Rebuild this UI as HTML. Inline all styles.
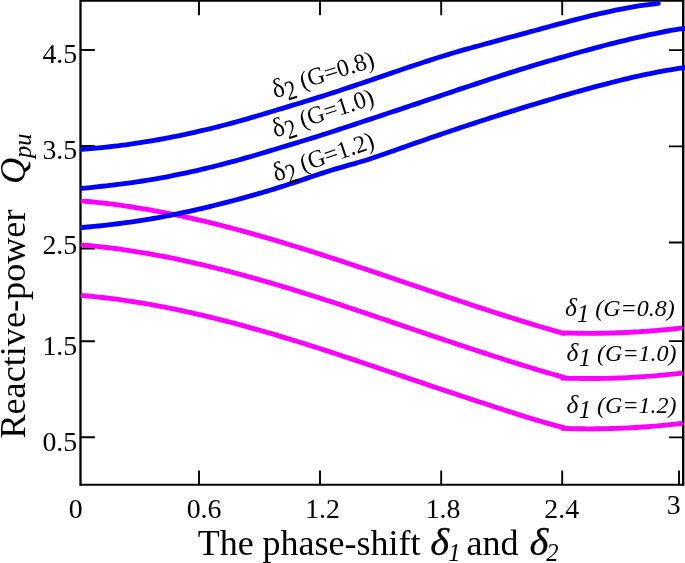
<!DOCTYPE html>
<html><head><meta charset="utf-8"><title>Reactive power vs phase shift</title>
<style>html,body{margin:0;padding:0;background:#fff;}body{width:685px;height:563px;overflow:hidden;}svg{display:block;}</style>
</head><body>
<svg width="685" height="563" viewBox="0 0 685 563">
<path d="M80.5,0.9 H683.2" fill="none" stroke="#000" stroke-width="1.9"/>
<path d="M80.5,484.8 H683.2" fill="none" stroke="#000" stroke-width="2.1"/>
<path d="M80.5,-0.09999999999999998 V485.85" fill="none" stroke="#000" stroke-width="2.3"/>
<path d="M683.2,-0.09999999999999998 V485.85" fill="none" stroke="#000" stroke-width="2.4"/>
<path d="M199.0,484.8 V470.5 M320.0,484.8 V470.5 M441.2,484.8 V470.5 M562.2,484.8 V470.5 M679.0,484.8 V470.5 M199.0,0.9 V15.200000000000001 M320.0,0.9 V15.200000000000001 M441.2,0.9 V15.200000000000001 M562.2,0.9 V15.200000000000001 M80.5,50.0 H94.8 M80.5,146.0 H94.8 M80.5,248.5 H94.8 M80.5,341.2 H94.8 M80.5,437.3 H94.8 M683.2,50.1 H668.9000000000001 M683.2,146.4 H668.9000000000001 M683.2,242.5 H668.9000000000001 M683.2,341.1 H668.9000000000001 M683.2,437.4 H668.9000000000001" fill="none" stroke="#000" stroke-width="1.9"/>
<path d="M83.00,201.08 C84.33,201.20 88.33,201.54 91.00,201.79 C93.67,202.04 96.33,202.31 99.00,202.60 C101.67,202.88 104.33,203.18 107.00,203.50 C109.67,203.82 112.33,204.15 115.00,204.50 C117.67,204.84 120.33,205.21 123.00,205.58 C125.67,205.96 128.33,206.35 131.00,206.76 C133.67,207.17 136.33,207.59 139.00,208.02 C141.67,208.46 144.33,208.90 147.00,209.37 C149.67,209.83 152.33,210.30 155.00,210.79 C157.67,211.28 160.33,211.78 163.00,212.30 C165.67,212.81 168.33,213.34 171.00,213.88 C173.67,214.42 176.33,214.97 179.00,215.54 C181.67,216.10 184.33,216.68 187.00,217.26 C189.67,217.85 192.33,218.45 195.00,219.06 C197.67,219.67 200.33,220.29 203.00,220.92 C205.67,221.55 208.33,222.19 211.00,222.84 C213.67,223.50 216.33,224.16 219.00,224.83 C221.67,225.50 224.33,226.19 227.00,226.88 C229.67,227.57 232.33,228.27 235.00,228.98 C237.67,229.69 240.33,230.41 243.00,231.14 C245.67,231.86 248.33,232.60 251.00,233.34 C253.67,234.09 256.33,234.84 259.00,235.60 C261.67,236.36 264.33,237.13 267.00,237.90 C269.67,238.68 272.33,239.46 275.00,240.25 C277.67,241.04 280.33,241.84 283.00,242.64 C285.67,243.44 288.33,244.25 291.00,245.07 C293.67,245.88 296.33,246.71 299.00,247.53 C301.67,248.36 304.33,249.19 307.00,250.03 C309.67,250.87 312.33,251.71 315.00,252.56 C317.67,253.41 320.33,254.26 323.00,255.12 C325.67,255.98 328.33,256.84 331.00,257.71 C333.67,258.57 336.33,259.45 339.00,260.32 C341.67,261.19 344.33,262.07 347.00,262.95 C349.67,263.83 352.33,264.72 355.00,265.60 C357.67,266.49 360.33,267.38 363.00,268.27 C365.67,269.17 368.33,270.06 371.00,270.96 C373.67,271.85 376.33,272.75 379.00,273.65 C381.67,274.55 384.33,275.45 387.00,276.36 C389.67,277.26 392.33,278.16 395.00,279.07 C397.67,279.97 400.33,280.88 403.00,281.78 C405.67,282.69 408.33,283.60 411.00,284.50 C413.67,285.41 416.33,286.31 419.00,287.22 C421.67,288.12 424.33,289.03 427.00,289.93 C429.67,290.84 432.33,291.74 435.00,292.64 C437.67,293.55 440.33,294.45 443.00,295.34 C445.67,296.24 448.33,297.14 451.00,298.04 C453.67,298.93 456.33,299.82 459.00,300.71 C461.67,301.60 464.33,302.49 467.00,303.38 C469.67,304.26 472.33,305.14 475.00,306.02 C477.67,306.90 480.33,307.78 483.00,308.65 C485.67,309.52 488.33,310.39 491.00,311.25 C493.67,312.11 496.33,312.97 499.00,313.83 C501.67,314.68 504.33,315.53 507.00,316.38 C509.67,317.22 512.33,318.06 515.00,318.90 C517.67,319.73 520.33,320.56 523.00,321.38 C525.67,322.21 528.33,323.02 531.00,323.83 C533.67,324.65 536.33,325.45 539.00,326.25 C541.67,327.05 544.33,327.84 547.00,328.62 C549.67,329.41 552.47,330.22 555.00,330.95 C557.53,331.69 561.00,332.67 562.20,333.01 L562.20,332.87 C563.53,332.90 567.53,333.03 570.20,333.10 C572.87,333.16 575.53,333.21 578.20,333.25 C580.87,333.29 583.53,333.31 586.20,333.32 C588.87,333.33 591.53,333.33 594.20,333.31 C596.87,333.29 599.53,333.26 602.20,333.22 C604.87,333.17 607.53,333.12 610.20,333.04 C612.87,332.97 615.53,332.89 618.20,332.79 C620.87,332.69 623.53,332.58 626.20,332.46 C628.87,332.33 631.53,332.19 634.20,332.04 C636.87,331.89 639.53,331.72 642.20,331.54 C644.87,331.37 647.53,331.17 650.20,330.97 C652.87,330.76 655.53,330.54 658.20,330.31 C660.87,330.08 663.53,329.83 666.20,329.57 C668.87,329.31 671.80,329.01 674.20,328.75 C676.60,328.49 679.53,328.16 680.60,328.04" fill="none" stroke="#ff00ff" stroke-width="4.85" stroke-linecap="round" stroke-linejoin="miter"/>
<path d="M83.00,245.06 C84.33,245.18 88.33,245.52 91.00,245.78 C93.67,246.04 96.33,246.31 99.00,246.60 C101.67,246.89 104.33,247.19 107.00,247.51 C109.67,247.83 112.33,248.17 115.00,248.52 C117.67,248.87 120.33,249.23 123.00,249.61 C125.67,249.99 128.33,250.38 131.00,250.79 C133.67,251.20 136.33,251.62 139.00,252.06 C141.67,252.49 144.33,252.94 147.00,253.40 C149.67,253.87 152.33,254.34 155.00,254.83 C157.67,255.32 160.33,255.82 163.00,256.34 C165.67,256.85 168.33,257.38 171.00,257.91 C173.67,258.45 176.33,259.00 179.00,259.57 C181.67,260.13 184.33,260.70 187.00,261.29 C189.67,261.87 192.33,262.47 195.00,263.08 C197.67,263.69 200.33,264.31 203.00,264.94 C205.67,265.56 208.33,266.20 211.00,266.85 C213.67,267.50 216.33,268.17 219.00,268.84 C221.67,269.51 224.33,270.19 227.00,270.87 C229.67,271.56 232.33,272.26 235.00,272.97 C237.67,273.68 240.33,274.40 243.00,275.12 C245.67,275.85 248.33,276.58 251.00,277.32 C253.67,278.07 256.33,278.82 259.00,279.57 C261.67,280.33 264.33,281.10 267.00,281.87 C269.67,282.65 272.33,283.43 275.00,284.22 C277.67,285.00 280.33,285.80 283.00,286.60 C285.67,287.40 288.33,288.21 291.00,289.03 C293.67,289.84 296.33,290.66 299.00,291.49 C301.67,292.32 304.33,293.15 307.00,293.99 C309.67,294.83 312.33,295.68 315.00,296.52 C317.67,297.37 320.33,298.23 323.00,299.09 C325.67,299.95 328.33,300.81 331.00,301.68 C333.67,302.55 336.33,303.42 339.00,304.30 C341.67,305.18 344.33,306.06 347.00,306.94 C349.67,307.83 352.33,308.71 355.00,309.60 C357.67,310.49 360.33,311.39 363.00,312.28 C365.67,313.18 368.33,314.08 371.00,314.98 C373.67,315.88 376.33,316.78 379.00,317.69 C381.67,318.59 384.33,319.50 387.00,320.40 C389.67,321.31 392.33,322.21 395.00,323.12 C397.67,324.03 400.33,324.94 403.00,325.84 C405.67,326.75 408.33,327.66 411.00,328.56 C413.67,329.47 416.33,330.38 419.00,331.28 C421.67,332.18 424.33,333.09 427.00,333.99 C429.67,334.89 432.33,335.79 435.00,336.69 C437.67,337.59 440.33,338.48 443.00,339.38 C445.67,340.27 448.33,341.16 451.00,342.05 C453.67,342.94 456.33,343.83 459.00,344.72 C461.67,345.60 464.33,346.49 467.00,347.37 C469.67,348.25 472.33,349.13 475.00,350.00 C477.67,350.88 480.33,351.75 483.00,352.62 C485.67,353.49 488.33,354.35 491.00,355.22 C493.67,356.08 496.33,356.94 499.00,357.79 C501.67,358.65 504.33,359.50 507.00,360.34 C509.67,361.19 512.33,362.03 515.00,362.86 C517.67,363.69 520.33,364.52 523.00,365.35 C525.67,366.17 528.33,366.99 531.00,367.80 C533.67,368.61 536.33,369.41 539.00,370.20 C541.67,371.00 544.33,371.78 547.00,372.56 C549.67,373.34 552.33,374.11 555.00,374.86 C557.67,375.62 561.67,376.74 563.00,377.11 L563.00,378.08 C564.33,378.12 568.33,378.24 571.00,378.30 C573.67,378.37 576.33,378.42 579.00,378.45 C581.67,378.49 584.33,378.51 587.00,378.52 C589.67,378.52 592.33,378.52 595.00,378.50 C597.67,378.48 600.33,378.45 603.00,378.40 C605.67,378.36 608.33,378.30 611.00,378.22 C613.67,378.15 616.33,378.06 619.00,377.96 C621.67,377.86 624.33,377.75 627.00,377.62 C629.67,377.49 632.33,377.35 635.00,377.20 C637.67,377.04 640.33,376.87 643.00,376.69 C645.67,376.51 648.33,376.32 651.00,376.11 C653.67,375.90 656.33,375.68 659.00,375.44 C661.67,375.20 664.33,374.96 667.00,374.69 C669.67,374.43 672.73,374.11 675.00,373.86 C677.27,373.62 679.67,373.34 680.60,373.23" fill="none" stroke="#ff00ff" stroke-width="4.85" stroke-linecap="round" stroke-linejoin="miter"/>
<path d="M83.00,295.55 C84.33,295.67 88.33,296.02 91.00,296.28 C93.67,296.54 96.33,296.81 99.00,297.10 C101.67,297.39 104.33,297.70 107.00,298.02 C109.67,298.34 112.33,298.68 115.00,299.03 C117.67,299.38 120.33,299.74 123.00,300.12 C125.67,300.50 128.33,300.90 131.00,301.31 C133.67,301.71 136.33,302.14 139.00,302.57 C141.67,303.01 144.33,303.46 147.00,303.92 C149.67,304.38 152.33,304.86 155.00,305.34 C157.67,305.83 160.33,306.33 163.00,306.85 C165.67,307.36 168.33,307.89 171.00,308.43 C173.67,308.96 176.33,309.51 179.00,310.08 C181.67,310.64 184.33,311.21 187.00,311.80 C189.67,312.38 192.33,312.98 195.00,313.58 C197.67,314.19 200.33,314.81 203.00,315.44 C205.67,316.07 208.33,316.71 211.00,317.36 C213.67,318.00 216.33,318.66 219.00,319.33 C221.67,320.00 224.33,320.68 227.00,321.37 C229.67,322.06 232.33,322.76 235.00,323.46 C237.67,324.17 240.33,324.89 243.00,325.61 C245.67,326.34 248.33,327.07 251.00,327.81 C253.67,328.55 256.33,329.30 259.00,330.06 C261.67,330.82 264.33,331.59 267.00,332.36 C269.67,333.13 272.33,333.91 275.00,334.70 C277.67,335.49 280.33,336.28 283.00,337.09 C285.67,337.89 288.33,338.70 291.00,339.51 C293.67,340.33 296.33,341.15 299.00,341.98 C301.67,342.81 304.33,343.64 307.00,344.48 C309.67,345.32 312.33,346.16 315.00,347.01 C317.67,347.86 320.33,348.72 323.00,349.58 C325.67,350.44 328.33,351.31 331.00,352.18 C333.67,353.05 336.33,353.92 339.00,354.80 C341.67,355.68 344.33,356.56 347.00,357.45 C349.67,358.33 352.33,359.23 355.00,360.12 C357.67,361.01 360.33,361.91 363.00,362.81 C365.67,363.70 368.33,364.60 371.00,365.51 C373.67,366.41 376.33,367.31 379.00,368.22 C381.67,369.12 384.33,370.03 387.00,370.94 C389.67,371.84 392.33,372.75 395.00,373.66 C397.67,374.56 400.33,375.47 403.00,376.38 C405.67,377.28 408.33,378.19 411.00,379.09 C413.67,380.00 416.33,380.90 419.00,381.80 C421.67,382.70 424.33,383.60 427.00,384.49 C429.67,385.39 432.33,386.28 435.00,387.18 C437.67,388.07 440.33,388.96 443.00,389.85 C445.67,390.74 448.33,391.62 451.00,392.51 C453.67,393.40 456.33,394.28 459.00,395.16 C461.67,396.04 464.33,396.92 467.00,397.80 C469.67,398.68 472.33,399.56 475.00,400.44 C477.67,401.31 480.33,402.19 483.00,403.06 C485.67,403.94 488.33,404.81 491.00,405.68 C493.67,406.55 496.33,407.41 499.00,408.28 C501.67,409.14 504.33,410.00 507.00,410.85 C509.67,411.71 512.33,412.56 515.00,413.40 C517.67,414.25 520.33,415.09 523.00,415.92 C525.67,416.75 528.33,417.58 531.00,418.39 C533.67,419.20 536.33,420.01 539.00,420.79 C541.67,421.58 544.33,422.36 547.00,423.12 C549.67,423.88 552.33,424.62 555.00,425.35 C557.67,426.07 561.58,427.08 563.00,427.45 C564.42,427.83 563.42,427.56 563.50,427.58 L563.50,428.38 C564.83,428.42 568.83,428.55 571.50,428.61 C574.17,428.67 576.83,428.72 579.50,428.75 C582.17,428.79 584.83,428.81 587.50,428.81 C590.17,428.82 592.83,428.81 595.50,428.79 C598.17,428.77 600.83,428.74 603.50,428.69 C606.17,428.64 608.83,428.58 611.50,428.51 C614.17,428.43 616.83,428.35 619.50,428.24 C622.17,428.14 624.83,428.03 627.50,427.90 C630.17,427.77 632.83,427.63 635.50,427.47 C638.17,427.31 640.83,427.14 643.50,426.96 C646.17,426.78 648.83,426.58 651.50,426.37 C654.17,426.16 656.83,425.93 659.50,425.70 C662.17,425.46 664.83,425.21 667.50,424.94 C670.17,424.68 673.32,424.34 675.50,424.11 C677.68,423.87 679.75,423.63 680.60,423.53" fill="none" stroke="#ff00ff" stroke-width="4.85" stroke-linecap="round" stroke-linejoin="miter"/>
<path d="M82.50,149.24 C83.83,149.13 87.83,148.84 90.50,148.62 C93.17,148.40 95.83,148.17 98.50,147.91 C101.17,147.66 103.83,147.39 106.50,147.11 C109.17,146.82 111.83,146.52 114.50,146.20 C117.17,145.89 119.83,145.56 122.50,145.21 C125.17,144.86 127.83,144.50 130.50,144.12 C133.17,143.75 135.83,143.35 138.50,142.95 C141.17,142.54 143.83,142.12 146.50,141.68 C149.17,141.24 151.83,140.79 154.50,140.33 C157.17,139.86 159.83,139.38 162.50,138.89 C165.17,138.40 167.83,137.89 170.50,137.37 C173.17,136.84 175.83,136.31 178.50,135.76 C181.17,135.21 183.83,134.65 186.50,134.08 C189.17,133.50 191.83,132.91 194.50,132.31 C197.17,131.71 199.83,131.09 202.50,130.47 C205.17,129.84 207.83,129.20 210.50,128.55 C213.17,127.90 215.83,127.23 218.50,126.55 C221.17,125.88 223.83,125.19 226.50,124.49 C229.17,123.79 231.83,123.07 234.50,122.35 C237.17,121.62 239.83,120.89 242.50,120.14 C245.17,119.39 247.83,118.63 250.50,117.86 C253.17,117.10 255.83,116.32 258.50,115.54 C261.17,114.75 263.83,113.96 266.50,113.16 C269.17,112.37 271.83,111.56 274.50,110.76 C277.17,109.95 279.83,109.14 282.50,108.33 C285.17,107.52 287.83,106.70 290.50,105.89 C293.17,105.07 295.83,104.26 298.50,103.45 C301.17,102.63 303.83,101.82 306.50,101.01 C309.17,100.20 311.83,99.39 314.50,98.56 C317.17,97.74 319.83,96.92 322.50,96.08 C325.17,95.24 327.83,94.39 330.50,93.53 C333.17,92.68 335.83,91.81 338.50,90.94 C341.17,90.07 343.83,89.19 346.50,88.30 C349.17,87.42 351.83,86.52 354.50,85.63 C357.17,84.73 359.83,83.83 362.50,82.93 C365.17,82.03 367.83,81.12 370.50,80.21 C373.17,79.30 375.83,78.39 378.50,77.48 C381.17,76.57 383.83,75.66 386.50,74.75 C389.17,73.84 391.83,72.93 394.50,72.02 C397.17,71.11 399.83,70.21 402.50,69.31 C405.17,68.40 407.83,67.51 410.50,66.61 C413.17,65.72 415.83,64.83 418.50,63.95 C421.17,63.07 423.83,62.19 426.50,61.33 C429.17,60.46 431.83,59.60 434.50,58.75 C437.17,57.90 439.83,57.06 442.50,56.24 C445.17,55.41 447.83,54.59 450.50,53.79 C453.17,52.99 455.83,52.20 458.50,51.42 C461.17,50.65 463.83,49.89 466.50,49.14 C469.17,48.39 471.83,47.65 474.50,46.92 C477.17,46.18 479.83,45.46 482.50,44.73 C485.17,44.00 487.83,43.28 490.50,42.55 C493.17,41.82 495.83,41.10 498.50,40.38 C501.17,39.65 503.83,38.93 506.50,38.21 C509.17,37.48 511.83,36.76 514.50,36.04 C517.17,35.32 519.83,34.60 522.50,33.87 C525.17,33.15 527.83,32.43 530.50,31.71 C533.17,30.98 535.83,30.26 538.50,29.54 C541.17,28.81 543.83,28.09 546.50,27.36 C549.17,26.64 551.83,25.91 554.50,25.19 C557.17,24.47 559.83,23.75 562.50,23.04 C565.17,22.33 567.83,21.62 570.50,20.92 C573.17,20.22 575.83,19.53 578.50,18.85 C581.17,18.17 583.83,17.49 586.50,16.83 C589.17,16.17 591.83,15.52 594.50,14.89 C597.17,14.25 599.83,13.63 602.50,13.02 C605.17,12.42 607.83,11.83 610.50,11.26 C613.17,10.69 615.83,10.13 618.50,9.60 C621.17,9.07 623.83,8.56 626.50,8.07 C629.17,7.58 631.83,7.12 634.50,6.68 C637.17,6.24 639.83,5.82 642.50,5.43 C645.17,5.04 647.87,4.67 650.50,4.35 C653.13,4.02 657.00,3.61 658.30,3.46" fill="none" stroke="#0000ff" stroke-width="4.85" stroke-linecap="round" stroke-linejoin="round"/>
<path d="M82.50,188.35 C83.83,188.21 87.83,187.82 90.50,187.54 C93.17,187.26 95.83,186.99 98.50,186.70 C101.17,186.41 103.83,186.11 106.50,185.81 C109.17,185.51 111.83,185.19 114.50,184.87 C117.17,184.55 119.83,184.21 122.50,183.87 C125.17,183.52 127.83,183.17 130.50,182.80 C133.17,182.43 135.83,182.04 138.50,181.64 C141.17,181.25 143.83,180.83 146.50,180.40 C149.17,179.97 151.83,179.53 154.50,179.07 C157.17,178.61 159.83,178.13 162.50,177.64 C165.17,177.14 167.83,176.63 170.50,176.11 C173.17,175.58 175.83,175.04 178.50,174.49 C181.17,173.94 183.83,173.37 186.50,172.79 C189.17,172.21 191.83,171.61 194.50,171.01 C197.17,170.40 199.83,169.79 202.50,169.16 C205.17,168.53 207.83,167.90 210.50,167.25 C213.17,166.60 215.83,165.94 218.50,165.26 C221.17,164.59 223.83,163.91 226.50,163.21 C229.17,162.51 231.83,161.80 234.50,161.08 C237.17,160.35 239.83,159.62 242.50,158.87 C245.17,158.12 247.83,157.35 250.50,156.58 C253.17,155.81 255.83,155.03 258.50,154.24 C261.17,153.45 263.83,152.65 266.50,151.86 C269.17,151.06 271.83,150.25 274.50,149.45 C277.17,148.65 279.83,147.85 282.50,147.05 C285.17,146.24 287.83,145.45 290.50,144.64 C293.17,143.84 295.83,143.04 298.50,142.23 C301.17,141.42 303.83,140.61 306.50,139.80 C309.17,138.98 311.83,138.16 314.50,137.33 C317.17,136.50 319.83,135.66 322.50,134.81 C325.17,133.97 327.83,133.11 330.50,132.24 C333.17,131.38 335.83,130.51 338.50,129.64 C341.17,128.76 343.83,127.88 346.50,127.00 C349.17,126.12 351.83,125.24 354.50,124.36 C357.17,123.48 359.83,122.59 362.50,121.71 C365.17,120.83 367.83,119.96 370.50,119.08 C373.17,118.20 375.83,117.32 378.50,116.44 C381.17,115.56 383.83,114.69 386.50,113.81 C389.17,112.92 391.83,112.04 394.50,111.16 C397.17,110.27 399.83,109.38 402.50,108.49 C405.17,107.60 407.83,106.70 410.50,105.80 C413.17,104.91 415.83,104.00 418.50,103.10 C421.17,102.20 423.83,101.30 426.50,100.40 C429.17,99.50 431.83,98.60 434.50,97.70 C437.17,96.80 439.83,95.90 442.50,95.01 C445.17,94.11 447.83,93.22 450.50,92.33 C453.17,91.44 455.83,90.55 458.50,89.66 C461.17,88.77 463.83,87.89 466.50,87.01 C469.17,86.12 471.83,85.24 474.50,84.36 C477.17,83.47 479.83,82.59 482.50,81.71 C485.17,80.83 487.83,79.95 490.50,79.07 C493.17,78.20 495.83,77.32 498.50,76.45 C501.17,75.59 503.83,74.72 506.50,73.86 C509.17,73.01 511.83,72.16 514.50,71.32 C517.17,70.48 519.83,69.65 522.50,68.83 C525.17,68.01 527.83,67.20 530.50,66.39 C533.17,65.59 535.83,64.80 538.50,64.01 C541.17,63.22 543.83,62.44 546.50,61.66 C549.17,60.89 551.83,60.12 554.50,59.35 C557.17,58.58 559.83,57.82 562.50,57.05 C565.17,56.29 567.83,55.53 570.50,54.78 C573.17,54.02 575.83,53.27 578.50,52.52 C581.17,51.78 583.83,51.04 586.50,50.31 C589.17,49.58 591.83,48.85 594.50,48.14 C597.17,47.42 599.83,46.71 602.50,46.02 C605.17,45.32 607.83,44.64 610.50,43.96 C613.17,43.29 615.83,42.62 618.50,41.96 C621.17,41.31 623.83,40.66 626.50,40.02 C629.17,39.38 631.83,38.75 634.50,38.12 C637.17,37.50 639.83,36.88 642.50,36.27 C645.17,35.67 647.83,35.07 650.50,34.49 C653.17,33.91 655.83,33.33 658.50,32.79 C661.17,32.25 663.83,31.73 666.50,31.24 C669.17,30.75 671.83,30.28 674.50,29.86 C677.17,29.44 679.92,29.04 682.50,28.71 C685.08,28.39 688.75,28.03 690.00,27.89" fill="none" stroke="#0000ff" stroke-width="4.85" stroke-linecap="round" stroke-linejoin="round"/>
<path d="M82.50,227.48 C83.83,227.36 87.83,227.01 90.50,226.76 C93.17,226.51 95.83,226.24 98.50,225.97 C101.17,225.69 103.83,225.41 106.50,225.11 C109.17,224.81 111.83,224.49 114.50,224.17 C117.17,223.84 119.83,223.51 122.50,223.15 C125.17,222.80 127.83,222.44 130.50,222.06 C133.17,221.68 135.83,221.28 138.50,220.88 C141.17,220.47 143.83,220.05 146.50,219.61 C149.17,219.17 151.83,218.72 154.50,218.25 C157.17,217.79 159.83,217.30 162.50,216.81 C165.17,216.31 167.83,215.79 170.50,215.27 C173.17,214.74 175.83,214.20 178.50,213.64 C181.17,213.08 183.83,212.51 186.50,211.93 C189.17,211.35 191.83,210.75 194.50,210.15 C197.17,209.54 199.83,208.92 202.50,208.29 C205.17,207.66 207.83,207.02 210.50,206.37 C213.17,205.71 215.83,205.05 218.50,204.38 C221.17,203.71 223.83,203.03 226.50,202.34 C229.17,201.65 231.83,200.95 234.50,200.24 C237.17,199.53 239.83,198.82 242.50,198.10 C245.17,197.37 247.83,196.64 250.50,195.90 C253.17,195.16 255.83,194.41 258.50,193.65 C261.17,192.88 263.83,192.11 266.50,191.32 C269.17,190.53 271.83,189.72 274.50,188.90 C277.17,188.08 279.83,187.24 282.50,186.38 C285.17,185.53 287.83,184.65 290.50,183.77 C293.17,182.89 295.83,181.99 298.50,181.09 C301.17,180.20 303.83,179.29 306.50,178.39 C309.17,177.50 311.83,176.59 314.50,175.71 C317.17,174.82 319.83,173.93 322.50,173.07 C325.17,172.20 327.83,171.35 330.50,170.52 C333.17,169.69 335.83,168.87 338.50,168.09 C341.17,167.30 343.83,166.56 346.50,165.81 C349.17,165.05 351.83,164.33 354.50,163.57 C357.17,162.81 359.83,162.04 362.50,161.23 C365.17,160.42 367.83,159.57 370.50,158.71 C373.17,157.85 375.83,156.95 378.50,156.04 C381.17,155.14 383.83,154.21 386.50,153.28 C389.17,152.34 391.83,151.40 394.50,150.45 C397.17,149.51 399.83,148.56 402.50,147.62 C405.17,146.68 407.83,145.74 410.50,144.80 C413.17,143.87 415.83,142.94 418.50,142.01 C421.17,141.08 423.83,140.16 426.50,139.24 C429.17,138.32 431.83,137.40 434.50,136.49 C437.17,135.58 439.83,134.67 442.50,133.77 C445.17,132.86 447.83,131.96 450.50,131.06 C453.17,130.17 455.83,129.27 458.50,128.38 C461.17,127.50 463.83,126.61 466.50,125.73 C469.17,124.85 471.83,123.97 474.50,123.10 C477.17,122.23 479.83,121.36 482.50,120.49 C485.17,119.63 487.83,118.77 490.50,117.92 C493.17,117.06 495.83,116.21 498.50,115.36 C501.17,114.51 503.83,113.67 506.50,112.83 C509.17,111.99 511.83,111.16 514.50,110.33 C517.17,109.50 519.83,108.68 522.50,107.86 C525.17,107.04 527.83,106.22 530.50,105.41 C533.17,104.60 535.83,103.79 538.50,102.99 C541.17,102.19 543.83,101.39 546.50,100.60 C549.17,99.81 551.83,99.02 554.50,98.24 C557.17,97.45 559.83,96.68 562.50,95.90 C565.17,95.13 567.83,94.36 570.50,93.60 C573.17,92.84 575.83,92.08 578.50,91.34 C581.17,90.59 583.83,89.85 586.50,89.11 C589.17,88.38 591.83,87.65 594.50,86.94 C597.17,86.22 599.83,85.51 602.50,84.82 C605.17,84.12 607.83,83.43 610.50,82.76 C613.17,82.08 615.83,81.41 618.50,80.76 C621.17,80.10 623.83,79.46 626.50,78.83 C629.17,78.20 631.83,77.59 634.50,76.98 C637.17,76.38 639.83,75.79 642.50,75.21 C645.17,74.64 647.83,74.08 650.50,73.53 C653.17,72.99 655.83,72.46 658.50,71.95 C661.17,71.44 663.83,70.94 666.50,70.46 C669.17,69.98 671.83,69.52 674.50,69.08 C677.17,68.64 679.92,68.20 682.50,67.81 C685.08,67.41 688.75,66.90 690.00,66.72" fill="none" stroke="#0000ff" stroke-width="4.85" stroke-linecap="round" stroke-linejoin="round"/>
<text x="77.2" y="62.7" font-family="Liberation Serif, serif" font-size="27.8" text-anchor="end">4.5</text>
<text x="77.2" y="158.8" font-family="Liberation Serif, serif" font-size="27.8" text-anchor="end">3.5</text>
<text x="77.2" y="254.1" font-family="Liberation Serif, serif" font-size="27.8" text-anchor="end">2.5</text>
<text x="77.2" y="354.8" font-family="Liberation Serif, serif" font-size="27.8" text-anchor="end">1.5</text>
<text x="77.2" y="450.7" font-family="Liberation Serif, serif" font-size="27.8" text-anchor="end">0.5</text>
<text x="75.6" y="518.4" font-family="Liberation Serif, serif" font-size="27.8" text-anchor="middle">0</text>
<text x="204" y="518.4" font-family="Liberation Serif, serif" font-size="27.8" text-anchor="middle">0.6</text>
<text x="322.5" y="518.4" font-family="Liberation Serif, serif" font-size="27.8" text-anchor="middle">1.2</text>
<text x="443" y="518.4" font-family="Liberation Serif, serif" font-size="27.8" text-anchor="middle">1.8</text>
<text x="561.7" y="518.4" font-family="Liberation Serif, serif" font-size="27.8" text-anchor="middle">2.4</text>
<text x="673.7" y="513.8" font-family="Liberation Serif, serif" font-size="27.8" text-anchor="middle">3</text>
<text x="197.65" y="554.8" font-family="Liberation Serif, serif" font-size="36.0">The phase-shift</text>
<text transform="translate(430.3,554.8) scale(1.06,1)" font-family="Liberation Serif, serif" font-size="38.2" font-style="italic" stroke="#000" stroke-width="0.3">δ</text>
<text x="448.25" y="560.5" font-family="Liberation Serif, serif" font-size="24.5" font-style="italic">1</text>
<text x="466.5" y="554.8" font-family="Liberation Serif, serif" font-size="36.0">and</text>
<text transform="translate(529.6,554.8) scale(1.06,1)" font-family="Liberation Serif, serif" font-size="38.2" font-style="italic" stroke="#000" stroke-width="0.3">δ</text>
<text x="546.2" y="560.5" font-family="Liberation Serif, serif" font-size="24.5" font-style="italic">2</text>
<text transform="translate(25.2,438.6) rotate(-90)" font-family="Liberation Serif, serif" font-size="36.2">Reactive-power</text>
<text transform="translate(25.2,183.9) rotate(-90)" font-family="Liberation Serif, serif" font-size="36.4" font-style="italic">Q</text>
<text transform="translate(30.6,157.9) rotate(-90)" font-family="Liberation Serif, serif" font-size="24.5" font-style="italic">pu</text>
<g transform="translate(275.4,97.2) rotate(-17)"><text transform="translate(-0.6,0.9) scale(0.93,1)" font-family="Liberation Serif, serif" font-size="27">δ</text><text transform="translate(11.4,6.9) scale(0.78,1)" font-family="Liberation Serif, serif" font-size="27.6">2</text><text transform="translate(28.3,0) scale(0.975,1)" font-family="Liberation Serif, serif" font-size="24.6">(G=0.8)</text></g>
<g transform="translate(275.6,136.4) rotate(-18)"><text transform="translate(-0.6,0.9) scale(0.93,1)" font-family="Liberation Serif, serif" font-size="27">δ</text><text transform="translate(11.4,6.9) scale(0.78,1)" font-family="Liberation Serif, serif" font-size="27.6">2</text><text transform="translate(28.3,0) scale(0.975,1)" font-family="Liberation Serif, serif" font-size="24.6">(G=1.0)</text></g>
<g transform="translate(276.3,180.8) rotate(-18.6)"><text transform="translate(-0.6,0.9) scale(0.93,1)" font-family="Liberation Serif, serif" font-size="27">δ</text><text transform="translate(11.4,6.9) scale(0.78,1)" font-family="Liberation Serif, serif" font-size="27.6">2</text><text transform="translate(28.3,0) scale(0.975,1)" font-family="Liberation Serif, serif" font-size="24.6">(G=1.2)</text></g>
<text x="564.95" y="316.4" font-family="Liberation Serif, serif" font-size="25.5" font-style="italic">δ</text>
<text x="577.1" y="321.9" font-family="Liberation Serif, serif" font-size="24.5" font-style="italic">1</text>
<text x="595.2" y="316.4" font-family="Liberation Serif, serif" font-size="24" font-style="italic">(G=0.8)</text>
<text x="566.5" y="360.8" font-family="Liberation Serif, serif" font-size="25.5" font-style="italic">δ</text>
<text x="578.65" y="366.3" font-family="Liberation Serif, serif" font-size="24.5" font-style="italic">1</text>
<text x="597.1" y="360.8" font-family="Liberation Serif, serif" font-size="24" font-style="italic">(G=1.0)</text>
<text x="566.5" y="412.7" font-family="Liberation Serif, serif" font-size="25.5" font-style="italic">δ</text>
<text x="578.65" y="418.2" font-family="Liberation Serif, serif" font-size="24.5" font-style="italic">1</text>
<text x="597.1" y="412.7" font-family="Liberation Serif, serif" font-size="24" font-style="italic">(G=1.2)</text>
</svg>
</body></html>
